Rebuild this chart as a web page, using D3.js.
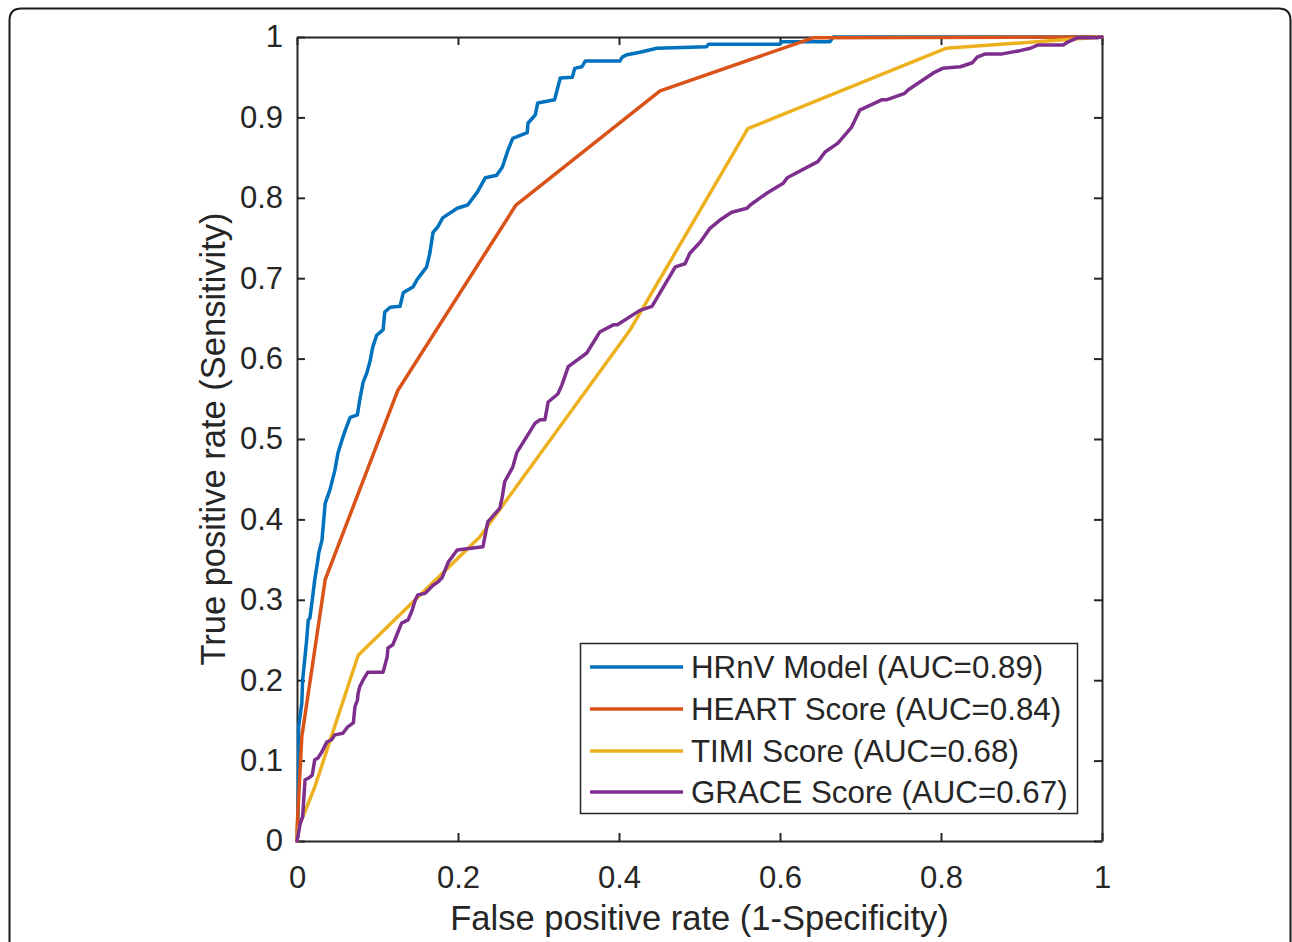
<!DOCTYPE html>
<html>
<head>
<meta charset="utf-8">
<script src="https://cdn.jsdelivr.net/npm/d3@7"></script>
<style>
  html, body { margin: 0; padding: 0; background: #fff; }
  svg { display: block; }
</style>
</head>
<body>
<svg id="chart" width="1292" height="942"></svg>
<script>
// ---- data (FPR, TPR) ----
const hrnv = [[0,0],[0.001,0.007],[0.002,0.101],[0.002,0.142],[0.006,0.172],[0.007,0.200],[0.012,0.250],[0.014,0.275],[0.016,0.277],[0.019,0.300],[0.022,0.325],[0.026,0.350],[0.027,0.358],[0.031,0.374],[0.035,0.420],[0.041,0.437],[0.047,0.461],[0.051,0.483],[0.056,0.499],[0.060,0.511],[0.066,0.527],[0.075,0.530],[0.078,0.549],[0.082,0.570],[0.087,0.583],[0.091,0.598],[0.094,0.614],[0.099,0.629],[0.107,0.636],[0.109,0.658],[0.116,0.664],[0.128,0.665],[0.132,0.682],[0.137,0.685],[0.144,0.689],[0.149,0.698],[0.155,0.706],[0.161,0.714],[0.165,0.731],[0.169,0.757],[0.175,0.764],[0.181,0.775],[0.199,0.787],[0.212,0.791],[0.224,0.807],[0.234,0.825],[0.248,0.828],[0.255,0.838],[0.262,0.859],[0.268,0.874],[0.286,0.881],[0.287,0.893],[0.296,0.903],[0.299,0.918],[0.320,0.922],[0.327,0.949],[0.342,0.950],[0.345,0.961],[0.354,0.963],[0.358,0.970],[0.401,0.970],[0.404,0.975],[0.410,0.978],[0.426,0.981],[0.447,0.986],[0.509,0.988],[0.511,0.991],[0.600,0.991],[0.602,0.994],[0.662,0.994],[0.666,1.0],[1,1]];
const heart = [[0,0],[0,0.014],[0.006,0.13],[0.035,0.325],[0.125,0.56],[0.272,0.791],[0.451,0.933],[0.641,0.999],[1,1]];
const timi = [[0,0],[0.002,0.017],[0.022,0.067],[0.076,0.231],[0.227,0.378],[0.414,0.636],[0.560,0.886],[0.806,0.986],[1,1]];
const grace = [[0,0],[0.004,0.022],[0.007,0.030],[0.010,0.076],[0.014,0.078],[0.019,0.082],[0.022,0.101],[0.026,0.103],[0.031,0.111],[0.037,0.123],[0.043,0.126],[0.047,0.132],[0.057,0.134],[0.063,0.142],[0.070,0.147],[0.072,0.167],[0.075,0.175],[0.076,0.184],[0.078,0.192],[0.082,0.200],[0.088,0.210],[0.107,0.210],[0.112,0.229],[0.113,0.240],[0.119,0.244],[0.125,0.259],[0.130,0.271],[0.138,0.275],[0.143,0.287],[0.147,0.300],[0.150,0.306],[0.159,0.308],[0.163,0.312],[0.169,0.318],[0.175,0.322],[0.180,0.327],[0.188,0.347],[0.199,0.362],[0.231,0.366],[0.237,0.397],[0.252,0.414],[0.255,0.428],[0.258,0.447],[0.268,0.465],[0.273,0.483],[0.296,0.520],[0.302,0.524],[0.308,0.524],[0.312,0.546],[0.324,0.556],[0.329,0.567],[0.337,0.590],[0.360,0.607],[0.376,0.633],[0.393,0.642],[0.398,0.642],[0.426,0.660],[0.441,0.665],[0.470,0.714],[0.482,0.718],[0.488,0.731],[0.501,0.745],[0.513,0.762],[0.525,0.772],[0.540,0.782],[0.559,0.787],[0.563,0.791],[0.584,0.806],[0.604,0.818],[0.609,0.825],[0.647,0.845],[0.656,0.857],[0.672,0.868],[0.689,0.888],[0.699,0.909],[0.727,0.922],[0.733,0.922],[0.755,0.930],[0.759,0.934],[0.790,0.955],[0.802,0.961],[0.824,0.963],[0.839,0.968],[0.845,0.975],[0.855,0.979],[0.876,0.979],[0.898,0.983],[0.911,0.986],[0.920,0.990],[0.952,0.990],[0.958,0.994],[0.969,0.999],[0.994,0.999],[0.998,1.0],[1,1]];

const seriesNames = ["HRnV Model (AUC=0.89)", "HEART Score (AUC=0.84)", "TIMI Score (AUC=0.68)", "GRACE Score (AUC=0.67)"];
const seriesColors = ["#0072BD", "#D95319", "#EDB120", "#7E2F8E"];
const xTicks = [0, 0.2, 0.4, 0.6, 0.8, 1];
const yTicks = [0, 0.1, 0.2, 0.3, 0.4, 0.5, 0.6, 0.7, 0.8, 0.9, 1];
const xLabel = "False positive rate (1-Specificity)";
const yLabel = "True positive rate (Sensitivity)";

// ---- layout ----
const svg = d3.select("#chart");
const FONT = "'Liberation Sans', Arial, Helvetica, sans-serif";
const axisColor = "#262626";
const L = 297, R = 1102, T = 37, B = 841;

// outer rounded frame (open at bottom, extends past the window)
const r = 12;
svg.append("path")
  .attr("d", `M9.5,960 L9.5,${8.5 + r} Q9.5,8.5 ${9.5 + r},8.5 L${1290.5 - r},8.5 Q1290.5,8.5 1290.5,${8.5 + r} L1290.5,960`)
  .attr("fill", "none").attr("stroke", "#1a1a1a").attr("stroke-width", 2);

const x = d3.scaleLinear().domain([0, 1]).range([L, R]);
const y = d3.scaleLinear().domain([0, 1]).range([B, T]);

const fmt = d => d === 0 ? "0" : d === 1 ? "1" : d3.format(".1f")(d);

// axes
const gx = svg.append("g").attr("transform", `translate(0,${B})`)
  .call(d3.axisBottom(x).tickValues(xTicks).tickFormat(fmt).tickSizeInner(-8).tickSizeOuter(0).tickPadding(25));
const gxTop = svg.append("g").attr("transform", `translate(0,${T})`)
  .call(d3.axisTop(x).tickValues(xTicks).tickFormat("").tickSizeInner(-8).tickSizeOuter(0));
const gy = svg.append("g").attr("transform", `translate(${L},0)`)
  .call(d3.axisLeft(y).tickValues(yTicks).tickFormat(fmt).tickSizeInner(-8).tickSizeOuter(0).tickPadding(14));
const gyRight = svg.append("g").attr("transform", `translate(${R},0)`)
  .call(d3.axisRight(y).tickValues(yTicks).tickFormat("").tickSizeInner(-8).tickSizeOuter(0));

[gx, gxTop, gy, gyRight].forEach(g => {
  g.select(".domain").attr("stroke", axisColor).attr("stroke-width", 2);
  g.selectAll(".tick line").attr("stroke", axisColor).attr("stroke-width", 2);
  g.selectAll(".tick text").attr("fill", axisColor).style("font-family", FONT).style("font-size", "31px");
});

// curves
const line = d3.line().x(d => x(d[0])).y(d => y(d[1]));
const allSeries = [hrnv, heart, timi, grace];
const plot = svg.append("g");
allSeries.forEach((s, i) => {
  plot.append("path").datum(s)
    .attr("d", line)
    .attr("fill", "none")
    .attr("stroke", seriesColors[i])
    .attr("stroke-width", 3.5)
    .attr("stroke-linejoin", "round")
    .attr("stroke-linecap", "round");
});

// axis labels
svg.append("text")
  .attr("x", (L + R) / 2).attr("y", 930)
  .attr("text-anchor", "middle")
  .attr("fill", axisColor)
  .style("font-family", FONT).style("font-size", "34.5px")
  .text(xLabel);
svg.append("text")
  .attr("transform", `translate(225,${(T + B) / 2}) rotate(-90)`)
  .attr("text-anchor", "middle")
  .attr("fill", axisColor)
  .style("font-family", FONT).style("font-size", "34.5px")
  .text(yLabel);

// legend
const lg = svg.append("g");
lg.append("rect")
  .attr("x", 580.5).attr("y", 643.5).attr("width", 497).attr("height", 170)
  .attr("fill", "#fff").attr("stroke", axisColor).attr("stroke-width", 1.5);
const rowY = [667, 709, 751, 792];
seriesNames.forEach((name, i) => {
  lg.append("line")
    .attr("x1", 590).attr("x2", 683).attr("y1", rowY[i]).attr("y2", rowY[i])
    .attr("stroke", seriesColors[i]).attr("stroke-width", 3.5);
  lg.append("text")
    .attr("x", 691).attr("y", rowY[i]).attr("dy", "0.35em")
    .attr("fill", axisColor)
    .style("font-family", FONT).style("font-size", "31.3px")
    .text(name);
});
</script>
</body>
</html>
